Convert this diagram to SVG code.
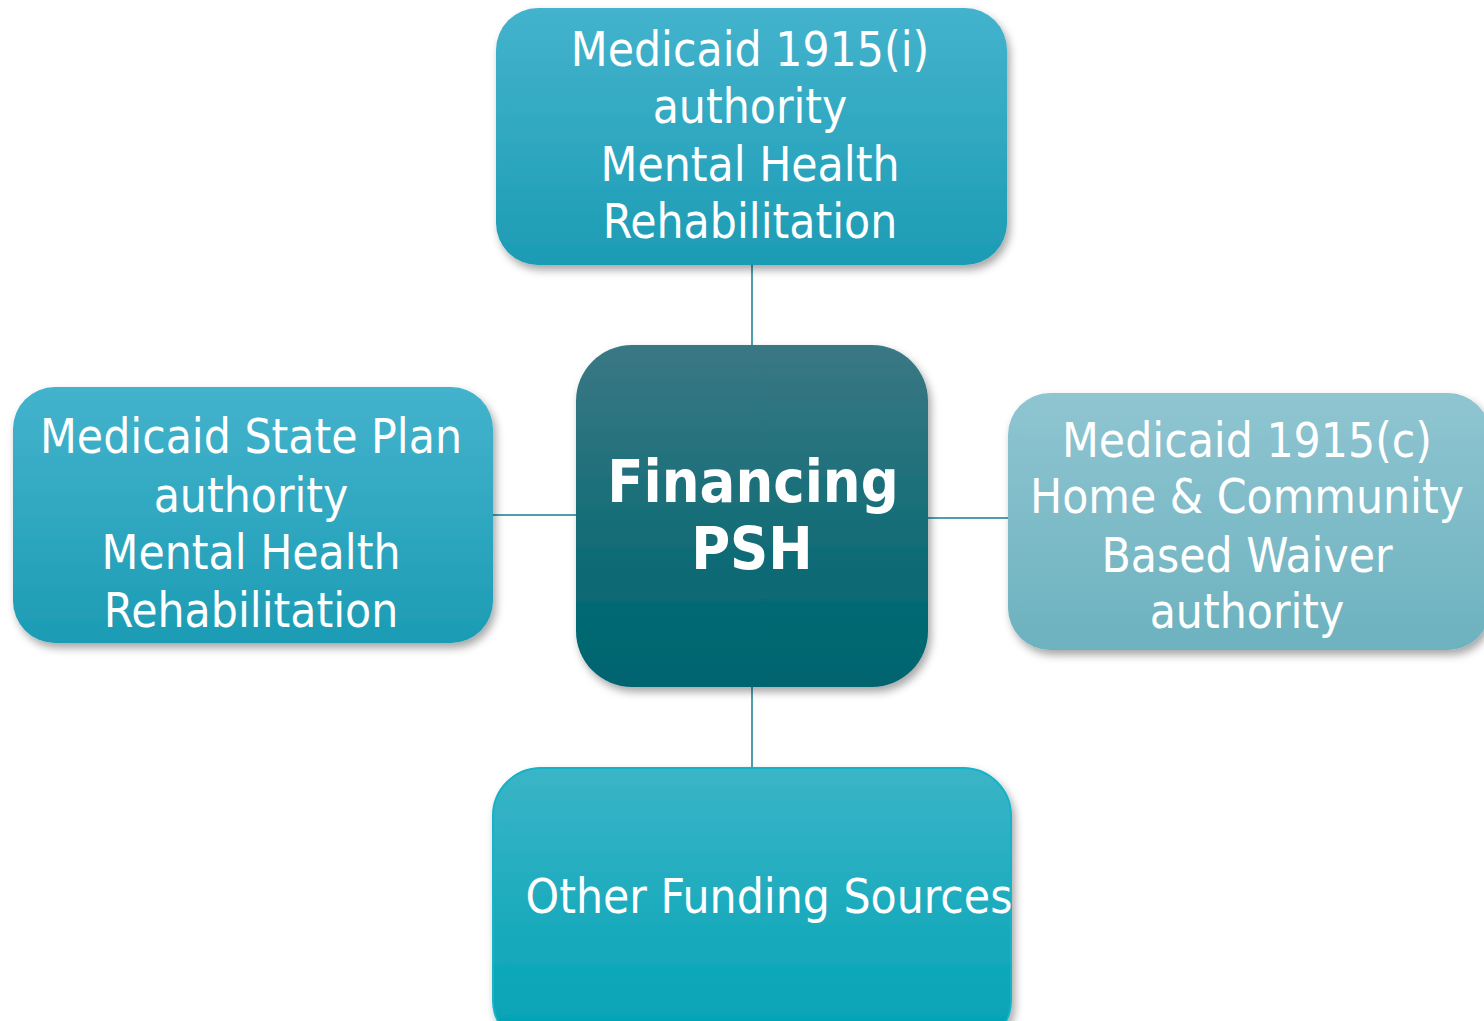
<svg xmlns="http://www.w3.org/2000/svg" width="1484" height="1021" viewBox="0 0 1484 1021">
<style>
.t{font-family:"DejaVu Sans Condensed","DejaVu Sans","Liberation Sans",sans-serif;font-stretch:condensed;fill:#ffffff;text-anchor:middle;font-size:47.5px}
.b{font-weight:bold;font-size:59px}
.c{stroke:#4d9fb0;stroke-width:2;fill:none}
</style>
<defs>
<filter id="sh" x="-10%" y="-10%" width="125%" height="130%">
<feDropShadow dx="3" dy="5" stdDeviation="4" flood-color="#000" flood-opacity="0.35"/>
</filter>
<linearGradient id="gA" x1="0" y1="0" x2="0" y2="1"><stop offset="0" stop-color="#44b3cd"/><stop offset="1" stop-color="#1c9cb4"/></linearGradient>
<linearGradient id="gC" x1="0" y1="0" x2="0" y2="1"><stop offset="0" stop-color="#3a7884"/><stop offset="0.8" stop-color="#036872"/><stop offset="1" stop-color="#02646e"/></linearGradient>
<linearGradient id="gR" x1="0" y1="0" x2="0" y2="1"><stop offset="0" stop-color="#8fc5d1"/><stop offset="1" stop-color="#6db2bf"/></linearGradient>
<linearGradient id="gB" x1="0" y1="0" x2="0" y2="1"><stop offset="0" stop-color="#3ab5c7"/><stop offset="1" stop-color="#00a2b5"/></linearGradient>
</defs>
<rect width="1484" height="1021" fill="#ffffff"/>
<g id="connectors">
<line class="c" x1="752" y1="265" x2="752" y2="346"/>
<line class="c" x1="493" y1="515" x2="577" y2="515"/>
<line class="c" x1="927" y1="518" x2="1009" y2="518"/>
<line class="c" x1="752" y1="686" x2="752" y2="768"/>
</g>
<g id="top">
<rect x="496" y="8" width="511" height="257" rx="42" fill="url(#gA)" filter="url(#sh)"/>
<text class="t" x="750" y="66">Medicaid 1915(i)</text>
<text class="t" x="750" y="123">authority</text>
<text class="t" x="750" y="181">Mental Health</text>
<text class="t" x="750" y="238">Rehabilitation</text>
</g>
<g id="left">
<rect x="13" y="387" width="480" height="256" rx="42" fill="url(#gA)" filter="url(#sh)"/>
<text class="t" x="251" y="453">Medicaid State Plan</text>
<text class="t" x="251" y="512">authority</text>
<text class="t" x="251" y="569">Mental Health</text>
<text class="t" x="251" y="627">Rehabilitation</text>
</g>
<g id="right">
<rect x="1008" y="393" width="482" height="257" rx="42" fill="url(#gR)" filter="url(#sh)"/>
<text class="t" x="1247" y="457">Medicaid 1915(c)</text>
<text class="t" x="1247" y="513">Home &amp; Community</text>
<text class="t" x="1247" y="572">Based Waiver</text>
<text class="t" x="1247" y="628">authority</text>
</g>
<g id="bottom">
<rect x="493" y="768" width="518" height="280" rx="48" fill="url(#gB)" stroke="#14b2c6" stroke-width="2" filter="url(#sh)"/>
<text class="t" x="769" y="913">Other Funding Sources</text>
</g>
<g id="center">
<rect x="576" y="345" width="352" height="342" rx="56" fill="url(#gC)" filter="url(#sh)"/>
<text class="t b" x="753" y="502">Financing</text>
<text class="t b" x="752" y="569">PSH</text>
</g>
</svg>
